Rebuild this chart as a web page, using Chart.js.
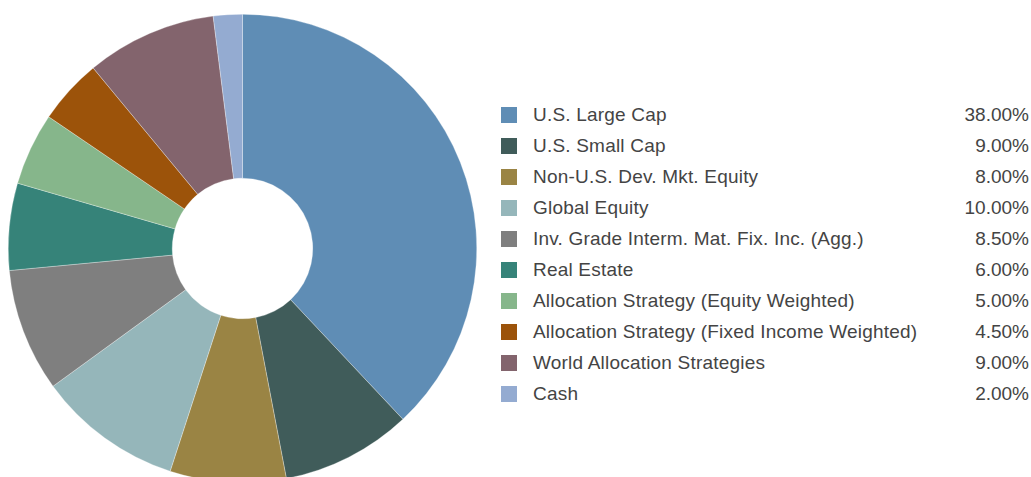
<!DOCTYPE html>
<html>
<head>
<meta charset="utf-8">
<script src="https://cdn.jsdelivr.net/npm/chart.js@4/dist/chart.umd.min.js"></script>
<style>
  html, body { margin: 0; padding: 0; background: #fff; overflow: hidden; }
  body { width: 1031px; height: 477px; position: relative; font-family: "Liberation Sans", Arial, sans-serif; }
  #pieWrap { position: absolute; left: 0; top: 0; width: 485px; height: 497px; }
  #legend { position: absolute; left: 501px; top: 99px; width: 528px; }
  .row { position: relative; height: 31px; line-height: 31px; font-size: 19px; color: #444; }
  .row .sw { position: absolute; left: 0; top: 8px; width: 16px; height: 16px; }
  .row .name { position: absolute; left: 32px; top: 0; white-space: nowrap; letter-spacing: 0.2px; }
  .row .val { position: absolute; right: 0; top: 0; }
</style>
</head>
<body>
<div id="pieWrap"><canvas id="allocChart"></canvas></div>
<div id="legend"></div>
<script>
const assetClasses = [
  "U.S. Large Cap",
  "U.S. Small Cap",
  "Non-U.S. Dev. Mkt. Equity",
  "Global Equity",
  "Inv. Grade Interm. Mat. Fix. Inc. (Agg.)",
  "Real Estate",
  "Allocation Strategy (Equity Weighted)",
  "Allocation Strategy (Fixed Income Weighted)",
  "World Allocation Strategies",
  "Cash",
];

const weights = [38.0, 9.0, 8.0, 10.0, 8.5, 6.0, 5.0, 4.5, 9.0, 2.0];

const sliceColors = [
  "#5f8db5",
  "#405c5a",
  "#9a8444",
  "#95b6ba",
  "#7f7f7f",
  "#368379",
  "#86b68b",
  "#9c530a",
  "#83646d",
  "#94abd1",
];

// legend rows: swatch, name, percentage right-aligned
const legendEl = document.getElementById("legend");
assetClasses.forEach(function (name, i) {
  const row = document.createElement("div");
  row.className = "row";
  row.innerHTML =
    '<span class="sw" style="background:' + sliceColors[i] + '"></span>' +
    '<span class="name"></span><span class="val"></span>';
  row.querySelector(".name").textContent = name;
  row.querySelector(".val").textContent = weights[i].toFixed(2) + "%";
  legendEl.appendChild(row);
});

new Chart(document.getElementById("allocChart"), {
  type: "doughnut",
  data: {
    labels: assetClasses,
    datasets: [
      {
        data: weights,
        backgroundColor: sliceColors,
        borderColor: "rgba(255, 255, 255, 0.6)",
        borderWidth: 0.5,
        hoverOffset: 0,
      },
    ],
  },
  options: {
    responsive: true,
    maintainAspectRatio: false,
    animation: false,
    cutout: "30%",
    layout: { padding: { left: 8, right: 8, top: 14, bottom: 14 } },
    plugins: {
      legend: { display: false },
      tooltip: { enabled: false },
    },
  },
});
</script>
</body>
</html>
